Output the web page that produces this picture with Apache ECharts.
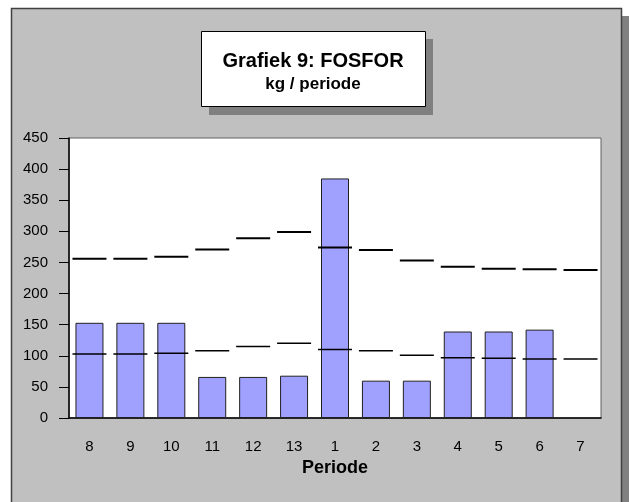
<!DOCTYPE html>
<html>
<head>
<meta charset="utf-8">
<script src="https://cdn.jsdelivr.net/npm/echarts@6/dist/echarts.min.js"></script>
<style>html,body{margin:0;padding:0;background:#fff}#c{width:629px;height:502px}</style>
</head>
<body>
<div id="c"></div>
<script>
var categories = ['8','9','10','11','12','13','1','2','3','4','5','6','7'];
var barValues = [153, 153, 153, 66, 66, 68, 385, 60, 60, 139, 139, 142, null];
var upperValues = [256, 256, 259, 271, 289, 299, 274, 270, 253, 243, 240, 239, 238];
var lowerValues = [103, 103, 104, 108, 115, 120, 110, 108, 101, 97, 96, 95, 95];
var yTicks = {min: 0, max: 450, interval: 50};
var titleText = 'Grafiek 9: FOSFOR';
var subtitleText = 'kg / periode';
var xName = 'Periode';

var chart = echarts.init(document.getElementById('c'), null, {renderer: 'canvas'});
var font = '"Liberation Sans", Arial, sans-serif';
chart.setOption({
  animation: false,
  backgroundColor: '#fff',
  graphic: [
    {type: 'rect', z: -10, shape: {x: 19, y: 16, width: 610, height: 500}, style: {fill: '#808080'}},
    {type: 'rect', z: -9, shape: {x: 11.5, y: 8.5, width: 610, height: 500}, style: {fill: '#C0C0C0', stroke: '#404040', lineWidth: 1.5}},
    {type: 'rect', z: 10, shape: {x: 209, y: 39, width: 224, height: 76}, style: {fill: '#808080'}},
    {type: 'rect', z: 11, shape: {x: 201.5, y: 31.5, width: 224, height: 75}, style: {fill: '#fff', stroke: '#000', lineWidth: 1}},
    {type: 'text', z: 12, style: {text: titleText, x: 313, y: 61, align: 'center', verticalAlign: 'middle', fill: '#000', font: 'bold 20px ' + font}},
    {type: 'text', z: 12, style: {text: subtitleText, x: 313, y: 84, align: 'center', verticalAlign: 'middle', fill: '#000', font: 'bold 17px ' + font}}
  ],
  grid: {left: 69, right: 28, top: 138, bottom: 84, show: true, backgroundColor: '#fff', borderColor: '#606060', borderWidth: 1},
  xAxis: {
    type: 'category', data: categories,
    axisLine: {lineStyle: {color: '#000', width: 1.5}},
    axisTick: {alignWithLabel: true, length: 9, lineStyle: {color: '#000'}},
    axisLabel: {color: '#000', fontSize: 15, fontFamily: font, margin: 21},
    name: xName, nameLocation: 'middle', nameGap: 41,
    nameTextStyle: {color: '#000', fontSize: 18, fontWeight: 'bold', fontFamily: font}
  },
  yAxis: {
    type: 'value', min: yTicks.min, max: yTicks.max, interval: yTicks.interval,
    splitLine: {show: false},
    axisLine: {show: true, lineStyle: {color: '#000', width: 1.5}},
    axisTick: {show: true, length: 10, lineStyle: {color: '#000'}},
    axisLabel: {color: '#000', fontSize: 15, fontFamily: font, margin: 21}
  },
  series: [
    {type: 'bar', data: barValues, barWidth: 28, itemStyle: {color: '#A0A0FF', borderColor: '#202020', borderWidth: 1}},
    {type: 'scatter', data: upperValues, symbol: 'rect', symbolSize: [34, 2], itemStyle: {color: '#000', opacity: 1}, z: 5},
    {type: 'scatter', data: lowerValues, symbol: 'rect', symbolSize: [34, 1.5], itemStyle: {color: '#000', opacity: 1}, z: 5}
  ]
});
</script>
</body>
</html>
